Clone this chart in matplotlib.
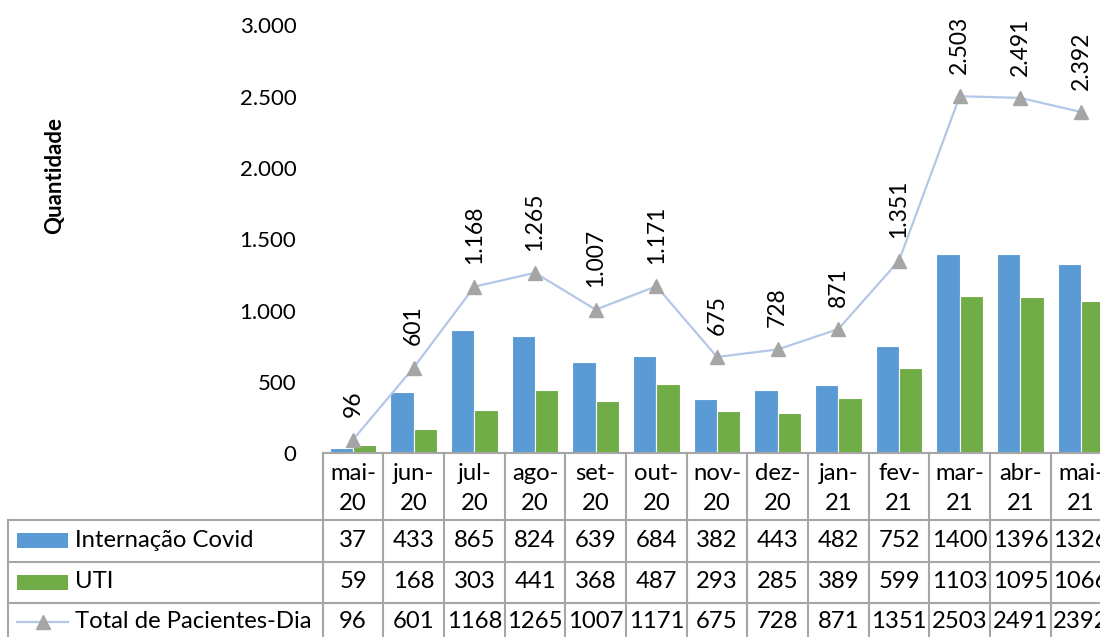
import matplotlib
matplotlib.use("Agg")
import matplotlib.pyplot as plt
import matplotlib.transforms as mtransforms
from matplotlib.lines import Line2D
from matplotlib.patches import Rectangle

months = ["mai-", "jun-", "jul-", "ago-", "set-", "out-", "nov-", "dez-", "jan-", "fev-", "mar-", "abr-", "mai-"]
years = ["20", "20", "20", "20", "20", "20", "20", "20", "21", "21", "21", "21", "21"]
internacao = [37, 433, 865, 824, 639, 684, 382, 443, 482, 752, 1400, 1396, 1326]
uti = [59, 168, 303, 441, 368, 487, 293, 285, 389, 599, 1103, 1095, 1066]
total = [96, 601, 1168, 1265, 1007, 1171, 675, 728, 871, 1351, 2503, 2491, 2392]
series_names = ["Internação Covid", "UTI", "Total de Pacientes-Dia"]
yticks = [0, 500, 1000, 1500, 2000, 2500, 3000]

plt.rcParams['font.family'] = ['Lato', 'DejaVu Sans']
FS_TICK = 16
FS_LAB = 16.5
FS_TAB = 17.2
BLUE = "#5B9BD5"
GREEN = "#70AD47"
LINE = "#B4C7E7"
MARK = "#A5A5A5"
GRID = "#A6A6A6"

W, H = 1100, 637
fig = plt.figure(figsize=(W / 100, H / 100), dpi=100)
col_w = 60.67
x0 = 322.7
ytop, ybot = 25.3, 453.3
ax = fig.add_axes([x0 / W, (H - ybot) / H, len(months) * col_w / W, (ybot - ytop) / H])

n = len(months)
xs = list(range(n))
bw = 0.385
ax.bar([x - bw / 2 for x in xs], internacao, width=bw, color=BLUE, edgecolor="white", linewidth=0.8, zorder=2)
ax.bar([x + bw / 2 for x in xs], uti, width=bw, color=GREEN, edgecolor="white", linewidth=0.8, zorder=2)
ax.plot(xs, total, color=LINE, linewidth=1.6, marker="^", markersize=10,
        markerfacecolor=MARK, markeredgecolor=MARK, zorder=3)

def fmt(v):
    return f"{v:,}".replace(",", ".")

for x, v in zip(xs, total):
    ax.annotate(fmt(v), (x, v), xytext=(0, 16), textcoords="offset points",
                rotation=90, ha="center", va="bottom", fontsize=FS_LAB, color="black",
                annotation_clip=False)

ax.set_xlim(-0.5, n - 0.5)
ax.set_ylim(0, 3000)
ax.set_yticks(yticks)
ax.set_yticklabels([fmt(v) for v in yticks], fontsize=FS_TICK)
ax.tick_params(axis="y", length=0, pad=19)
ax.set_xticks([])
for s in ["top", "right", "left"]:
    ax.spines[s].set_visible(False)
ax.spines["bottom"].set_color(GRID)
ax.spines["bottom"].set_linewidth(1.5)

fig.text(55 / W, 1 - 175 / H, "Quantidade", rotation=90, ha="center", va="center",
         fontsize=16, fontweight="bold")

# Data table (x in data coordinates, y in figure pixels)
trans = mtransforms.blended_transform_factory(ax.transData, mtransforms.IdentityTransform())

def py(y):
    return H - y

def px2data(p):
    return -0.5 + (p - x0) / col_w

left_edge = px2data(8)
right_edge = n - 0.5 + 0.3
lkw = dict(color=GRID, linewidth=1.5, transform=trans, clip_on=False)
for yl in [520, 561.5, 602.5]:
    fig.add_artist(Line2D([left_edge, right_edge], [py(yl), py(yl)], **lkw))
for i in range(n + 1):
    fig.add_artist(Line2D([i - 0.5, i - 0.5], [py(453.3), py(650)], **lkw))
fig.add_artist(Line2D([left_edge, left_edge], [py(520), py(650)], **lkw))

for x, m, yr in zip(xs, months, years):
    fig.text(x, py(473), m, transform=trans, ha="center", va="center", fontsize=FS_TAB)
    fig.text(x, py(503), yr, transform=trans, ha="center", va="center", fontsize=FS_TAB)

rows_y = [540.5, 581.5, 622]
for vals, yc in zip([internacao, uti, total], rows_y):
    for x, v in zip(xs, vals):
        fig.text(x, py(yc), str(v), transform=trans, ha="center", va="center", fontsize=FS_TAB)

pix = mtransforms.IdentityTransform()
fig.add_artist(Rectangle((17, py(548)), 51, 15, facecolor=BLUE, edgecolor="none", transform=pix))
fig.add_artist(Rectangle((17, py(590)), 51, 15, facecolor=GREEN, edgecolor="none", transform=pix))
fig.add_artist(Line2D([17, 68], [py(622), py(622)], color=LINE, linewidth=1.6, transform=pix))
fig.add_artist(Line2D([42.5], [py(622)], marker="^", markersize=10, color=MARK,
                      markeredgecolor=MARK, linestyle="none", transform=pix))
for name, yc in zip(series_names, rows_y):
    fig.text(75 / W, 1 - yc / H, name, ha="left", va="center", fontsize=FS_TAB)

fig.savefig("out.png", dpi=100)
